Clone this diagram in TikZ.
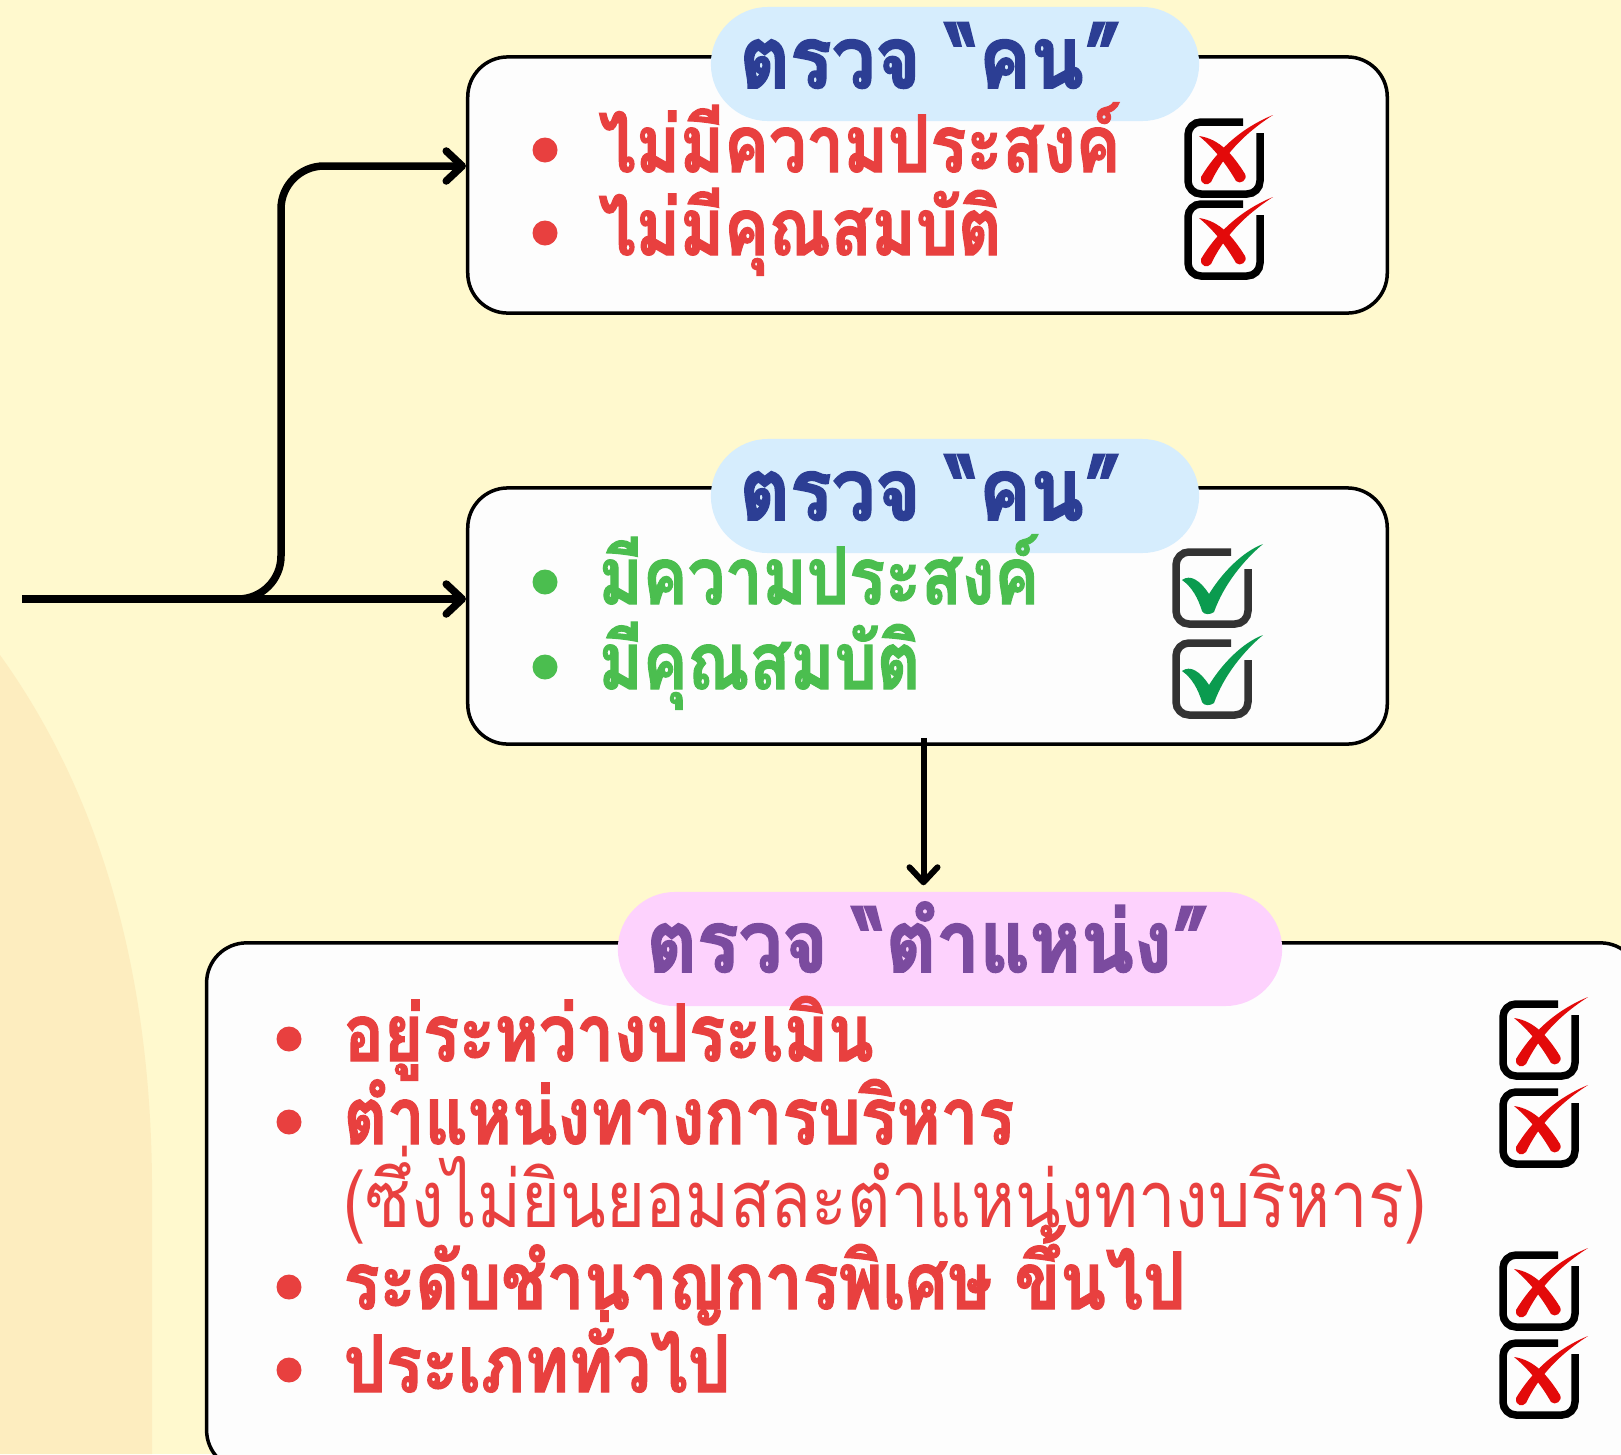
\documentclass[tikz,border=0pt]{standalone}
\usepackage{fontspec}
\newfontfamily\thaifont[Script=Thai, FakeStretch=0.845, BoldFeatures={FakeBold=1.5}]{Loma}
\newfontfamily\thaititle[Script=Thai, FakeStretch=0.9, BoldFeatures={FakeBold=2}]{Loma}
\usetikzlibrary{arrows.meta}

\definecolor{bgyellow}{HTML}{FFF9CE}
\definecolor{bgarch}{HTML}{FDEDBF}
\definecolor{boxwhite}{HTML}{FDFDFD}
\definecolor{pillblue}{HTML}{D6EDFD}
\definecolor{pillpink}{HTML}{FDD2FD}
\definecolor{titleblue}{HTML}{2C3E94}
\definecolor{titlepurple}{HTML}{7B4B9F}
\definecolor{itemred}{HTML}{E8403F}
\definecolor{itemgreen}{HTML}{4BBE4F}
\definecolor{markred}{HTML}{E30A0A}
\definecolor{markgreen}{HTML}{0A9B4F}
\definecolor{framegray}{HTML}{333333}

% red cross in a box, centred at #1
\newcommand{\nobox}[1]{%
  \begin{scope}[shift={#1}]
    \draw[line width=0.075cm, rounded corners=1.3mm] (19,-36) -- (-36,-36) -- (-36,36) -- (36,36) -- (36,-25);
    \fill[markred] (-23,19) .. controls (-8,-6) and (15,-29) .. (49,-43)
      .. controls (18,-23) and (-1,-1) .. (-13,24)
      .. controls (-16,28) and (-24,27) .. (-23,19) -- cycle;
    \fill[markred] (-25,-22) .. controls (-4,-19) and (9,-3) .. (21,16)
      .. controls (24,22) and (16,27) .. (12,23)
      .. controls (4,9) and (-8,-8) .. (-25,-22) -- cycle;
  \end{scope}}

% green tick in a box, centred at #1
\newcommand{\yesbox}[1]{%
  \begin{scope}[shift={#1}]
    \draw[framegray, line width=0.075cm, rounded corners=1.3mm] (19,-36) -- (-36,-36) -- (-36,36) -- (36,36) -- (36,-19);
    \fill[markgreen] (-30,-8) .. controls (-22,-14) and (-12,-8) .. (-3,6)
      .. controls (10,-15) and (30,-36) .. (51,-44)
      .. controls (32,-28) and (12,-4) .. (2,24)
      .. controls (-2,27) and (-8,27) .. (-10,23)
      .. controls (-14,10) and (-20,-1) .. (-30,-8) -- cycle;
  \end{scope}}

\begin{document}
\begin{tikzpicture}[
    x=0.01cm, y=-0.01cm,
    panel/.style={draw, line width=0.035cm, fill=boxwhite, rounded corners=4mm, inner sep=0},
    pill/.style={rounded corners=5.7mm, minimum height=1.14cm, inner sep=0},
    title/.style={anchor=base west, inner sep=0, font=\thaititle\bfseries\fontsize{24.5}{28}\selectfont},
    item/.style={anchor=base west, inner sep=0, font=\thaifont\bfseries\fontsize{22.5}{26}\selectfont},
    link/.style={line width=0.075cm, -{Straight Barb[length=1.6mm,width=3mm,round]}},
    drop/.style={line width=0.06cm, -{Straight Barb[length=1.5mm,width=2.8mm,round]}}
]
\useasboundingbox (0,0) rectangle (1621,1454);
\clip (0,0) rectangle (1621,1454);
\fill[bgyellow] (0,0) rectangle (1621,1454);
\fill[bgarch] (0,655) .. controls (90,780) and (150,950) .. (152,1180) -- (152,1454) -- (0,1454) -- cycle;

% boxes
\node[panel, minimum width=9.19cm, minimum height=2.56cm] (people1) at (927.5,185) {};
\node[panel, minimum width=9.19cm, minimum height=2.56cm] (people2) at (927.5,616) {};
\node[panel, minimum width=14.33cm, minimum height=5.27cm] (post) at (923.5,1206.5) {};

\node[pill, fill=pillblue, minimum width=4.88cm] (pill1) at (955,64) {};
\node[pill, fill=pillblue, minimum width=4.88cm] (pill2) at (955,496) {};
\node[pill, fill=pillpink, minimum width=6.64cm] (pill3) at (950,949) {};

\node[title, text=titleblue] (head1) at (739,88) {ตรวจ “คน”};
\node[title, text=titleblue] (head2) at (739,520) {ตรวจ “คน”};
\node[title, text=titlepurple] (head3) at (646,972) {ตรวจ “ตำแหน่ง”};

% connectors
\coordinate (src) at (22,599);
\coordinate (fork) at (281,166);
\draw[link] (src) -- (src -| people2.west);
\draw[link, rounded corners=4.3mm] (src) -| (fork) -- (fork -| people1.west);
\draw[drop, shorten >=0.6mm] ([xshift=-0.04cm, yshift=0.08cm]people2.south) -- ([xshift=-0.04cm]people2.south |- pill3.north);

% items
\fill[itemred] (545,150) circle (12.5);
\fill[itemred] (545,233) circle (12.5);
\node[item, text=itemred] (no1) at (598,172) {ไม่มีความประสงค์};
\node[item, text=itemred] (no2) at (598,255) {ไม่มีคุณสมบัติ};

\fill[itemgreen] (545,582) circle (12.5);
\fill[itemgreen] (545,667) circle (12.5);
\node[item, text=itemgreen] (yes1) at (598,604) {มีความประสงค์};
\node[item, text=itemgreen] (yes2) at (598,689) {มีคุณสมบัติ};

\fill[itemred] (289,1039) circle (12.5);
\fill[itemred] (289,1122) circle (12.5);
\fill[itemred] (289,1287) circle (12.5);
\fill[itemred] (289,1370) circle (12.5);
\node[item, text=itemred] (rule1) at (343,1061) {อยู่ระหว่างประเมิน};
\node[item, text=itemred] (rule2) at (343,1144) {ตำแหน่งทางการบริหาร};
\node[item, text=itemred, font=\thaifont\fontsize{22.5}{26}\selectfont] (rule2b) at (343,1227) {(ซึ่งไม่ยินยอมสละตำแหน่งทางบริหาร)};
\node[item, text=itemred] (rule3) at (343,1309) {ระดับชำนาญการพิเศษ ขึ้นไป};
\node[item, text=itemred] (rule4) at (343,1392) {ประเภททั่วไป};

% marks
\nobox{(1224,158)}
\nobox{(1224,240)}
\yesbox{(1212,588)}
\yesbox{(1212,679)}
\nobox{(1539,1040)}
\nobox{(1539,1128)}
\nobox{(1539,1291)}
\nobox{(1539,1379)}
\end{tikzpicture}
\end{document}
